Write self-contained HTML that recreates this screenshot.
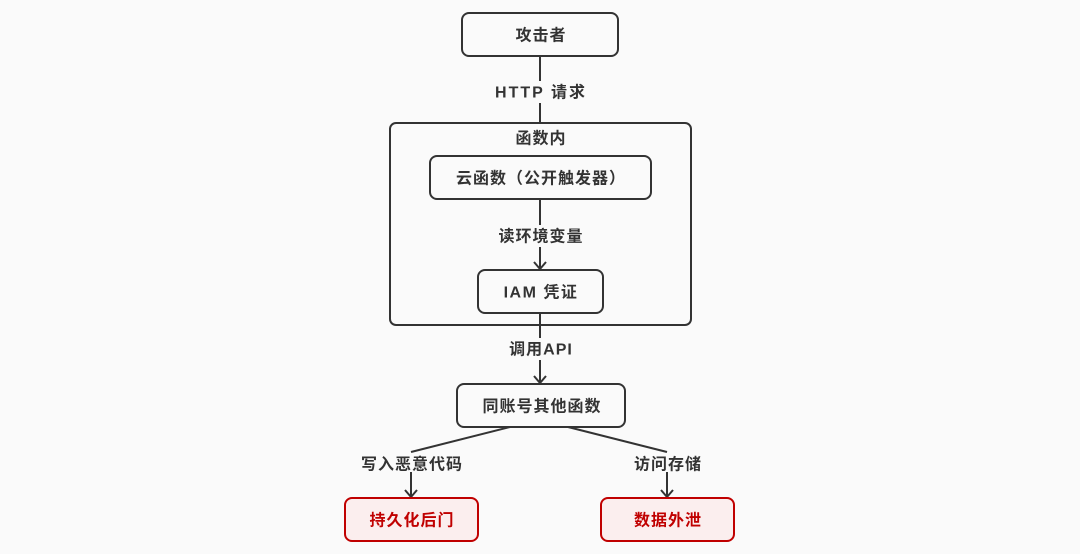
<!DOCTYPE html>
<html><head><meta charset="utf-8"><style>
html,body{margin:0;padding:0;background:#fafafa;}
svg{display:block;}
text{font-family:"Liberation Sans","Noto Sans CJK SC",sans-serif;font-weight:bold;font-size:16px;letter-spacing:1px;fill:#333;text-anchor:middle;dominant-baseline:central;}
</style></head><body>
<svg width="1080" height="554" viewBox="0 0 1080 554" xmlns="http://www.w3.org/2000/svg">
<rect width="1080" height="554" fill="#fafafa"/>
<g fill="none" stroke="#333" stroke-width="2">
<line x1="540" y1="56" x2="540" y2="123"/>
<line x1="540" y1="199" x2="540" y2="269"/>
<polyline points="534,262 540,269 546,262"/>
<line x1="540" y1="313" x2="540" y2="383"/>
<polyline points="534,376 540,383 546,376"/>
<line x1="510" y1="427" x2="411" y2="452"/>
<line x1="411" y1="472" x2="411" y2="497"/>
<polyline points="405,490 411,497 417,490"/>
<line x1="568" y1="427" x2="667" y2="452"/>
<line x1="667" y1="472" x2="667" y2="497"/>
<polyline points="661,490 667,497 673,490"/>
</g>
<g fill="#fafafa">
<rect x="492" y="81" width="96" height="22"/>
<rect x="495" y="225" width="90" height="22"/>
<rect x="505" y="338" width="70" height="22"/>
</g>
<g stroke="#333" stroke-width="2">
<rect x="390" y="123" width="301" height="202" rx="6" fill="none"/>
<rect x="462" y="13" width="156" height="43" rx="7" fill="#fafafa"/>
<rect x="430" y="156" width="221" height="43" rx="7" fill="#fafafa"/>
<rect x="478" y="270" width="125" height="43" rx="7" fill="#fafafa"/>
<rect x="457" y="384" width="168" height="43" rx="7" fill="#fafafa"/>
</g>
<g stroke="#c00000" stroke-width="2" fill="#fbeeee">
<rect x="345" y="498" width="133" height="43" rx="7"/>
<rect x="601" y="498" width="133" height="43" rx="7"/>
</g>
<text x="541" y="36">攻击者</text>
<text x="541" y="93" style="letter-spacing:2px">HTTP 请求</text>
<text x="541" y="139">函数内</text>
<text x="541" y="179">云函数（公开触发器）</text>
<text x="541" y="237">读环境变量</text>
<text x="541" y="293" style="letter-spacing:1.5px">IAM 凭证</text>
<text x="541" y="350">调用API</text>
<text x="542" y="407">同账号其他函数</text>
<text x="412" y="465">写入恶意代码</text>
<text x="668" y="465">访问存储</text>
<text x="412" y="521" style="fill:#c00000">持久化后门</text>
<text x="668" y="521" style="fill:#c00000">数据外泄</text>
</svg>
</body></html>
